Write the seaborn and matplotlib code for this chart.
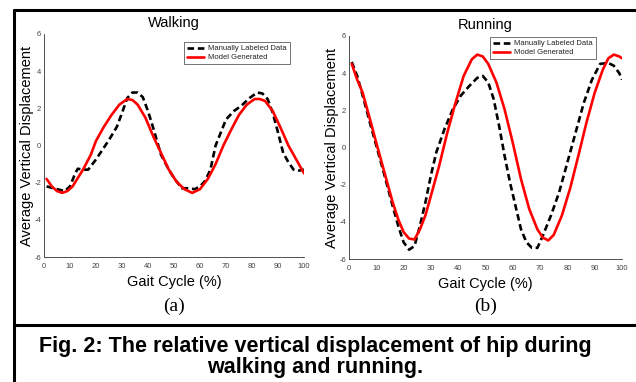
import numpy as np
import pandas as pd
import seaborn as sns
import matplotlib.pyplot as plt
from matplotlib.lines import Line2D

# walking, manually labeled (black dashed)
walk_manual_x = [1, 5, 8, 10, 12, 13, 15, 17, 20, 25, 28, 30, 32, 34, 36, 38, 40, 42, 45,
                 48, 50, 53, 55, 58, 60, 62, 64, 66, 68, 70, 73, 76, 79, 82, 84, 86, 88,
                 90, 92, 94, 96, 98, 100]
walk_manual_y = [-2.2, -2.35, -2.45, -2.2, -1.5, -1.25, -1.3, -1.3, -0.75, 0.3, 1.0, 1.75,
                 2.55, 2.85, 2.85, 2.6, 1.85, 0.95, -0.5, -1.3, -1.75, -2.3, -2.3, -2.35,
                 -2.2, -1.9, -1.3, 0.0, 0.7, 1.4, 1.85, 2.15, 2.55, 2.85, 2.8, 2.5, 1.75,
                 0.7, -0.4, -0.9, -1.3, -1.35, -1.3]

# walking, model (red)
walk_model_x = [1, 3, 5, 7, 9, 11, 13, 15, 18, 20, 23, 26, 29, 32, 34, 36, 39, 42, 45, 48,
                51, 54, 57, 60, 63, 66, 69, 72, 75, 78, 81, 83, 85, 88, 91, 94, 97, 100]
walk_model_y = [-1.8, -2.2, -2.45, -2.55, -2.45, -2.2, -1.75, -1.3, -0.5, 0.25, 1.0, 1.65,
                2.2, 2.5, 2.45, 2.2, 1.5, 0.5, -0.4, -1.3, -1.95, -2.35, -2.55, -2.35,
                -1.8, -1.0, 0.0, 0.85, 1.65, 2.2, 2.5, 2.5, 2.4, 1.85, 0.95, 0.0, -0.75,
                -1.5]

# running, manually labeled (black dashed)
run_manual_x = [1, 3, 5, 8, 10, 13, 16, 18, 20, 22, 24, 26, 28, 30, 32, 35, 38, 41, 44, 47,
                49, 51, 53, 55, 57, 59, 61, 63, 65, 67, 69, 71, 74, 77, 80, 83, 86, 89, 92,
                95, 97, 99, 100]
run_manual_y = [4.6, 3.85, 2.8, 1.15, 0.1, -1.5, -3.15, -4.2, -5.1, -5.5, -5.3, -4.2, -2.95,
                -1.5, -0.25, 1.0, 2.05, 2.8, 3.3, 3.75, 3.85, 3.5, 2.6, 1.15, -0.45, -1.9,
                -3.15, -4.4, -5.1, -5.4, -5.4, -4.75, -3.65, -2.4, -0.8, 0.8, 2.4, 3.65,
                4.5, 4.55, 4.4, 4.0, 3.65]

# running, model (red)
run_model_x = [1, 3, 5, 8, 10, 13, 16, 18, 20, 22, 24, 26, 28, 30, 33, 36, 39, 42, 45, 47,
               49, 51, 54, 57, 60, 63, 66, 69, 71, 73, 75, 78, 81, 84, 87, 90, 93, 95, 97,
               99, 100]
run_model_y = [4.5, 3.65, 2.95, 1.35, 0.25, -1.35, -2.95, -3.85, -4.55, -4.9, -4.95, -4.4,
               -3.65, -2.6, -1.0, 0.8, 2.4, 3.85, 4.75, 5.0, 4.9, 4.5, 3.5, 2.05, 0.25,
               -1.7, -3.3, -4.4, -4.85, -5.0, -4.7, -3.65, -2.2, -0.45, 1.35, 2.95, 4.2,
               4.8, 5.0, 4.9, 4.8]

series_labels = ["Manually Labeled Data", "Model Generated"]
panel_titles = ["Walking", "Running"]
panel_tags = ["(a)", "(b)"]
x_ticks = [0, 10, 20, 30, 40, 50, 60, 70, 80, 90, 100]
y_ticks = [-6, -4, -2, 0, 2, 4, 6]
caption = "Fig. 2: The relative vertical displacement of hip during\nwalking and running."

sns.set_style("white")
plt.rcParams["font.family"] = ["Liberation Sans", "DejaVu Sans"]
plt.rcParams["text.color"] = "black"
plt.rcParams["axes.labelcolor"] = "black"
plt.rcParams["axes.unicode_minus"] = False


def make_frame(mx, my, gx, gy):
    return pd.concat([
        pd.DataFrame({"x": mx, "y": my, "series": series_labels[0]}),
        pd.DataFrame({"x": gx, "y": gy, "series": series_labels[1]}),
    ])


frames = [
    make_frame(walk_manual_x, walk_manual_y, walk_model_x, walk_model_y),
    make_frame(run_manual_x, run_manual_y, run_model_x, run_model_y),
]

fig = plt.figure(figsize=(6.36, 3.82), dpi=100)
W, H = 636, 382

# axes boxes in pixels: left, top, right, bottom
boxes = [(44, 34, 304, 257), (349, 36, 622, 259)]
legend_boxes = [(184, 42), (490, 37)]
ylabel_right = [34, 339]   # right edge of the rotated y label
xlabel_top = [275, 277]    # top edge of the x label

palette = {series_labels[0]: "black", series_labels[1]: "#ff0000"}
dash = (2.5, 1.4)

for i, df in enumerate(frames):
    l, t, r, b = boxes[i]
    ax = fig.add_axes([l / W, 1 - b / H, (r - l) / W, (b - t) / H])
    sns.lineplot(data=df, x="x", y="y", hue="series", style="series",
                 palette=palette, dashes={series_labels[0]: dash, series_labels[1]: ""},
                 linewidth=1.9, sort=False, estimator=None, ax=ax, legend=False)
    # red drawn on top of black like the original
    for ln in ax.get_lines():
        if ln.get_color() == "#ff0000":
            ln.set_zorder(3)
    ax.set_xlim(0, 100)
    ax.set_ylim(-6, 6)
    ax.set_xticks(x_ticks)
    ax.set_yticks(y_ticks)
    ax.tick_params(direction="in", length=3, width=0.6, labelsize=5.5,
                   labelcolor="#444444")
    ax.tick_params(axis="x", pad=4)
    ax.tick_params(axis="y", pad=2)
    for side in ["top", "right"]:
        ax.spines[side].set_visible(False)
    for side in ["left", "bottom"]:
        ax.spines[side].set_linewidth(0.6)
        ax.spines[side].set_color("#333333")
    ax.set_xlabel("Gait Cycle (%)", fontsize=10.5)
    ax.set_ylabel("Average Vertical Displacement", fontsize=10.5)
    ax.xaxis.set_label_coords(0.5, -(xlabel_top[i] - b) / (b - t))
    ax.yaxis.set_label_coords((ylabel_right[i] - l) / (r - l), 0.5)
    ax.set_title(panel_titles[i], fontsize=10.5, pad=5)

    handles = [Line2D([], [], color="black", lw=1.9, dashes=dash),
               Line2D([], [], color="#ff0000", lw=1.9)]
    lx, ly = legend_boxes[i]
    leg = ax.legend(handles, series_labels, loc="upper left",
                    bbox_to_anchor=((lx - l) / (r - l), 1 - (ly - t) / (b - t)),
                    fontsize=5.5, frameon=True, fancybox=False, borderaxespad=0,
                    handlelength=2.2, handletextpad=0.6, borderpad=0.4,
                    labelspacing=0.2)
    leg.get_frame().set_edgecolor("#333333")
    leg.get_frame().set_linewidth(0.6)
    for txt in leg.get_texts():
        txt.set_color("#222222")

    fig.text((l + r) / 2 / W, 1 - 306 / H, panel_tags[i], ha="center", va="center",
             fontsize=14, family=["Liberation Serif", "DejaVu Serif"])

# frame lines of the figure box
fig.add_artist(Line2D([14 / W, 1], [1 - 10 / H, 1 - 10 / H], color="black", lw=2.2))
fig.add_artist(Line2D([14 / W, 14 / W], [0, 1 - 10 / H], color="black", lw=2.2))
fig.add_artist(Line2D([14 / W, 1], [1 - 325 / H, 1 - 325 / H], color="black", lw=2.2))

fig.text(315 / W, 1 - 357 / H, caption, ha="center", va="center", fontsize=15.5,
         fontweight="bold", linespacing=1.0,
         family=["Liberation Sans", "DejaVu Sans"])

fig.savefig("out.png", dpi=100)
